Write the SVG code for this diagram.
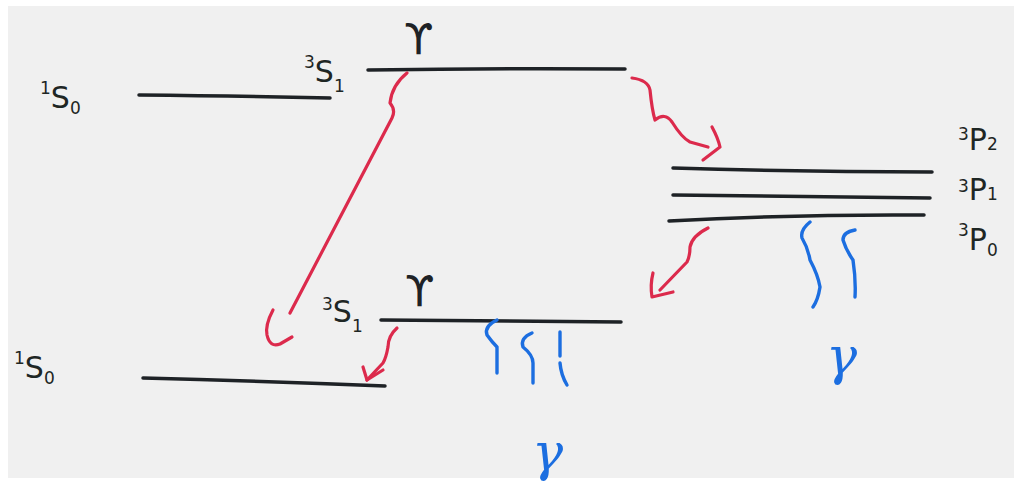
<svg xmlns="http://www.w3.org/2000/svg" width="1018" height="482" viewBox="0 0 1018 482">
<style>
.lvl{fill:none;stroke:#1e2226;stroke-width:3.5;stroke-linecap:round}
.red{fill:none;stroke:#dc2a4c;stroke-width:3.2;stroke-linecap:round;stroke-linejoin:round}
.blue{fill:none;stroke:#1c6ee0;stroke-width:3.4;stroke-linecap:round;stroke-linejoin:round}
.lab{font-family:"DejaVu Sans","Liberation Sans",sans-serif;fill:#1e2624;font-size:30px}
.sm{font-size:17px}
.ups{font-family:"DejaVu Sans","Liberation Sans",sans-serif;fill:#1e2226;font-size:42px}
.gam{font-family:"DejaVu Serif","Liberation Serif",serif;fill:#1c6ee0;font-size:52px;font-style:italic}
</style>
<rect x="0" y="0" width="1018" height="482" fill="#ffffff"/>
<rect x="8" y="6" width="1006" height="472" fill="#f0f0f0"/>

<g id="S0-top">
<path class="lvl" d="M139 95 Q240 96 330 98"/>
<text class="lab" x="40" y="108"><tspan class="sm" dy="-14">1</tspan><tspan dy="14">S</tspan><tspan class="sm" dy="6">0</tspan></text>
</g>

<g id="S1-top">
<path class="lvl" d="M368 70 Q500 68 625 69"/>
<text class="lab" x="304" y="82"><tspan class="sm" dy="-14">3</tspan><tspan dy="14">S</tspan><tspan class="sm" dy="10">1</tspan></text>
<text class="ups" x="404" y="54">ϒ</text>
</g>

<g id="P-levels">
<path class="lvl" d="M673 168 Q800 172 932 172"/>
<path class="lvl" d="M673 195 Q800 196 930 198"/>
<path class="lvl" d="M669 221 Q800 214 924 215"/>
<text class="lab" x="958" y="150"><tspan class="sm" dy="-10">3</tspan><tspan dy="10">P</tspan><tspan class="sm" dy="0">2</tspan></text>
<text class="lab" x="958" y="200"><tspan class="sm" dy="-8">3</tspan><tspan dy="8">P</tspan><tspan class="sm" dy="0">1</tspan></text>
<text class="lab" x="958" y="250"><tspan class="sm" dy="-14">3</tspan><tspan dy="14">P</tspan><tspan class="sm" dy="6">0</tspan></text>
</g>

<g id="S1-bottom">
<path class="lvl" d="M381 320 Q500 321 621 322"/>
<text class="lab" x="322" y="322"><tspan class="sm" dy="-12">3</tspan><tspan dy="12">S</tspan><tspan class="sm" dy="10">1</tspan></text>
<text class="ups" x="405" y="306">ϒ</text>
</g>

<g id="S0-bottom">
<path class="lvl" d="M143 378 Q260 381 385 386"/>
<text class="lab" x="14" y="378"><tspan class="sm" dy="-14">1</tspan><tspan dy="14">S</tspan><tspan class="sm" dy="6">0</tspan></text>
</g>

<g id="connectors">
<path class="red" d="M407 73 Q392 85 390 103 Q396 110 392 118 L290 313"/>
<path class="red" d="M273 310 Q265 325 267 335 Q270 348 280 344 L292 337"/>
<path class="red" d="M632 78 Q648 80 650 90 Q652 110 655 120 Q665 112 672 122 Q682 138 690 142 L708 147"/>
<path class="red" d="M712 127 Q718 138 720 147 L703 160"/>
<path class="red" d="M708 228 Q692 236 690 247 Q690 256 687 262 L660 290"/>
<path class="red" d="M653 273 Q650 285 652 297 L673 292"/>
<path class="red" d="M397 328 Q388 336 388 347 Q386 358 383 363 L367 380"/>
<path class="red" d="M363 367 L367 380 L383 370"/>

<path class="blue" d="M497 320 Q484 326 487 335 Q492 342 497 347 L497 373"/>
<path class="blue" d="M532 333 Q520 338 523 347 Q533 355 533 363 L533 383"/>
<path class="blue" d="M560 332 L560 356"/>
<path class="blue" d="M560 363 Q561 375 567 385"/>
<path class="blue" d="M810 222 Q800 230 802 238 Q808 248 810 260 Q818 275 820 287 Q818 300 813 307"/>
<path class="blue" d="M855 230 Q843 232 843 240 Q846 250 853 260 Q856 280 855 297"/>
</g>

<text class="gam" x="532" y="470">γ</text>
<text class="gam" x="826" y="374">γ</text>
</svg>
